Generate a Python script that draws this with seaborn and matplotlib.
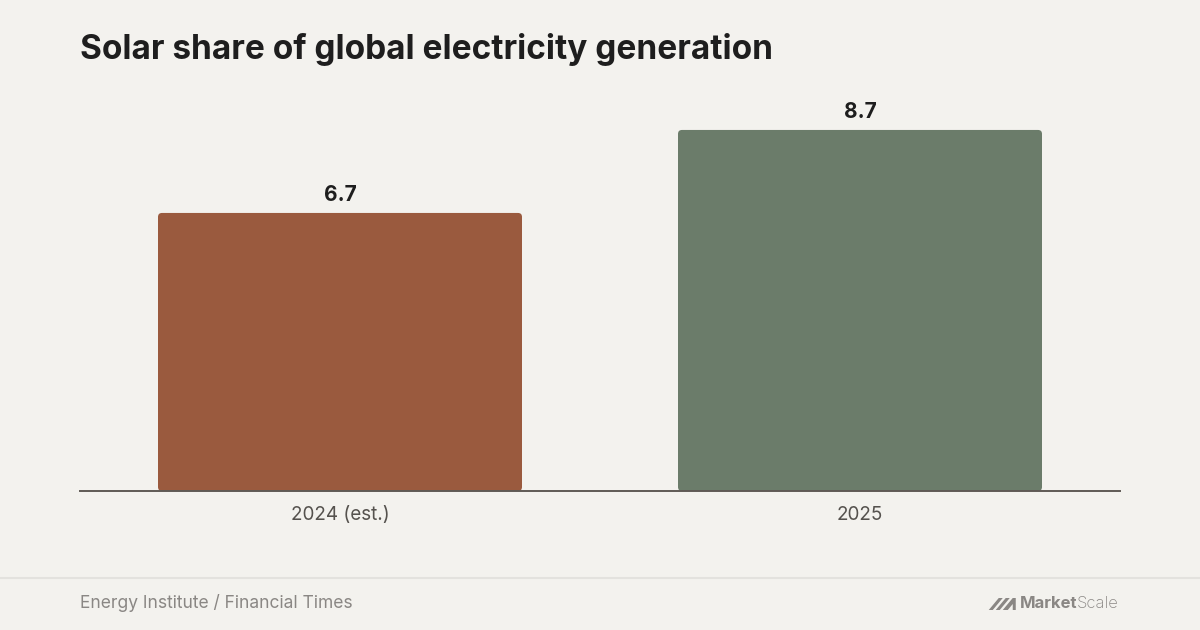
import matplotlib
matplotlib.use("Agg")
import matplotlib.pyplot as plt
import seaborn as sns
import pandas as pd
from matplotlib.patches import FancyBboxPatch, Polygon

categories = ["2024 (est.)", "2025"]
values = [6.7, 8.7]
bar_colors = ["#9A5A3E", "#6B7C6A"]
title = "Solar share of global electricity generation"
source = "Energy Institute / Financial Times"
brand_bold = "Market"
brand_light = "Scale"

BG = "#F3F2EE"
GREY = "#8A8784"
sns.set_theme(style="white")
plt.rcParams["font.family"] = ["Inter", "DejaVu Sans"]

df = pd.DataFrame({"cat": categories, "val": values})

fig = plt.figure(figsize=(12, 6.3), dpi=100, facecolor=BG)
ax = fig.add_axes([80 / 1200, 139 / 630, 1040 / 1200, 396 / 630])
ax.set_facecolor(BG)

sns.barplot(data=df, x="cat", y="val", hue="cat", palette=bar_colors,
            width=0.7, legend=False, ax=ax, saturation=1)

ax.set_xlim(-0.5, 1.5)
ax.set_ylim(0, 396 / 41.5)

# round the bar corners
px_x = 2.0 / 1040  # data units per px in x
px_y = (396 / 41.5) / 396
for p in list(ax.patches):
    x, y = p.get_x(), p.get_y()
    w, h = p.get_width(), p.get_height()
    fc = p.get_facecolor()
    p.remove()
    r = 4 * px_x
    fb = FancyBboxPatch((x, y), w, h,
                        boxstyle=f"round,pad=0,rounding_size={r}",
                        mutation_aspect=px_y / px_x,
                        facecolor=fc, edgecolor="none", zorder=2)
    ax.add_patch(fb)

for i, v in enumerate(values):
    ax.text(i, v + 7.5 * px_y, f"{v}", ha="center", va="bottom",
            fontsize=15, fontweight="bold", color="#1E1E1E")

for s in ["top", "right", "left"]:
    ax.spines[s].set_visible(False)
ax.spines["bottom"].set_color("#5F5A55")
ax.spines["bottom"].set_linewidth(1.4)
ax.spines["bottom"].set_zorder(3)
ax.set_yticks([])
ax.set_xlabel("")
ax.set_ylabel("")
ax.tick_params(axis="x", length=0, pad=11, labelsize=13.6, labelcolor="#55524E")

fig.text(80 / 1200, 1 - 50 / 630, title, fontsize=24, fontweight="bold",
         color="#1E1E1E", va="center", ha="left")

fig.add_artist(plt.Line2D([0, 1], [1 - 578 / 630] * 2, color="#E3E2DE", lw=1.5))
fig.text(80 / 1200, 1 - 603 / 630, source, fontsize=12.55, color=GREY,
         va="center", ha="left")

t2 = fig.text(1119 / 1200, 1 - 604 / 630, brand_light, fontsize=12, color=GREY,
              va="center", ha="right", fontweight="light")
fig.canvas.draw()
bb = t2.get_window_extent()
t1 = fig.text(bb.x0 / 1200, 1 - 604 / 630, brand_bold, fontsize=12, color=GREY,
              va="center", ha="right", fontweight="bold")
fig.canvas.draw()
x0 = t1.get_window_extent().x0  # left edge of wordmark, px

def fpt(px, py):
    return (px / 1200, 1 - py / 630)

# small slanted logo mark left of the wordmark
lx = x0 - 31
strokes = [
    [(lx + 0, 610), (lx + 10, 598), (lx + 14, 598), (lx + 4, 610)],
    [(lx + 7, 610), (lx + 17, 598), (lx + 21, 598), (lx + 11, 610)],
    [(lx + 14, 610), (lx + 24, 598), (lx + 27, 598), (lx + 27, 610), (lx + 24, 610), (lx + 24, 604), (lx + 19, 610)],
]
for s in strokes:
    fig.add_artist(Polygon([fpt(*p) for p in s], closed=True, transform=fig.transFigure,
                           facecolor=GREY, edgecolor="none"))

fig.savefig("out.png", dpi=100, facecolor=BG)
